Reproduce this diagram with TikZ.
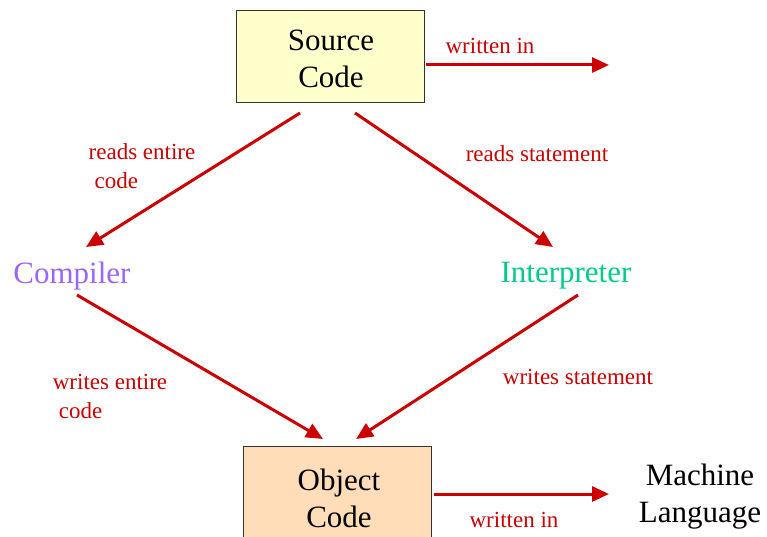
\documentclass[tikz,border=0pt]{standalone}
\usepackage{fontspec}
\setmainfont{Liberation Serif}
\usetikzlibrary{arrows.meta}
\definecolor{flowred}{HTML}{CC0000}
\definecolor{srcfill}{HTML}{FFFFCC}
\definecolor{objfill}{HTML}{FFDDB8}
\definecolor{compcol}{HTML}{9966FF}
\definecolor{interpcol}{HTML}{00CC88}
\tikzset{
  bigtext/.style={font=\fontsize{31}{37}\selectfont, align=center, inner sep=0pt},
  codebox/.style={draw=black!80, line width=0.8pt, minimum width=188pt},
  flowlabel/.style={font=\fontsize{23}{29}\selectfont, text=flowred, inner sep=0pt},
  flow/.style={draw=flowred, line width=3pt, -{Triangle[length=17pt,width=15pt]}},
}
\begin{document}
\begin{tikzpicture}[x=1pt, y=-1pt]
  \useasboundingbox (0,0) rectangle (767,537);

  % boxes and their captions
  \node[codebox, fill=srcfill, minimum height=92pt] (src) at (330,56) {};
  \node[bigtext] (srctext) at (331,59) {Source\\Code};
  \node[codebox, fill=objfill, minimum height=96pt] (obj) at (337.5,494) {};
  \node[bigtext] (objtext) at (339,498) {Object\\Code};

  % plain text nodes
  \node[bigtext, text=compcol] (comp) at (72,276) {Compiler};
  \node[bigtext, text=interpcol] (interp) at (566,276) {Interpreter};
  \node[bigtext] (mach) at (700,497) {Machine\\Language};
  \coordinate (srcout) at (609,65);

  % connectors
  \draw[flow] ([shift={(2,9)}]src.east) -- (srcout);
  \draw[flow] ([shift={(-30,57)}]src.center) -- ([shift={(14,-29)}]comp.center);
  \draw[flow] ([shift={(25,57)}]src.center) -- ([shift={(-13,-29)}]interp.center);
  \draw[flow] ([shift={(5,19)}]comp.center) -- ([shift={(-14.5,-55)}]obj.center);
  \draw[flow] ([shift={(12,19)}]interp.center) -- ([shift={(18.5,-55)}]obj.center);
  \draw[flow] ([shift={(2,0)}]obj.east) -- ([shift={(-91,-3)}]mach.center);

  % labels
  \node[flowlabel] (l1) at (490,46) {written in};
  \node[flowlabel, align=left] (l2) at (142,166) {reads entire\\\hspace*{6pt}code};
  \node[flowlabel] (l3) at (537,154) {reads statement};
  \node[flowlabel, align=left] (l4) at (110,396) {writes entire\\\hspace*{6pt}code};
  \node[flowlabel] (l5) at (578,377) {writes statement};
  \node[flowlabel] (l6) at (514,520) {written in};
\end{tikzpicture}
\end{document}
